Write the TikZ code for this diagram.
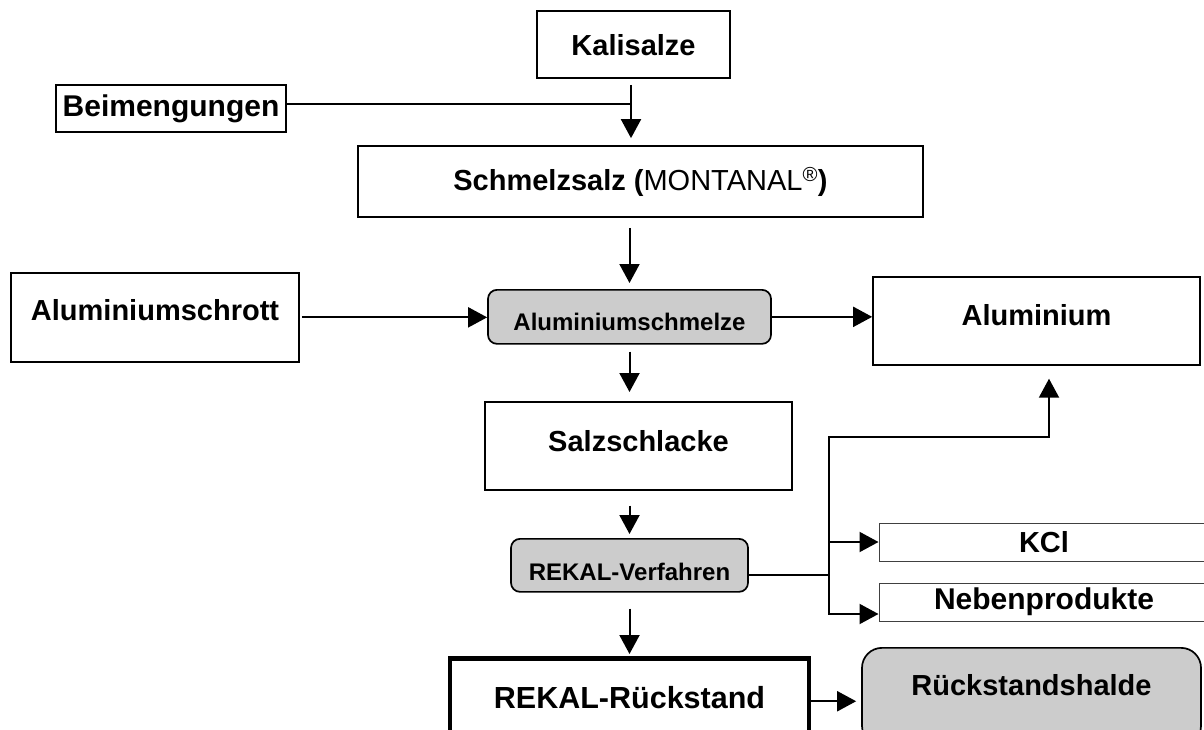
\documentclass[tikz,border=0pt]{standalone}
\usepackage{fontspec}
\setmainfont{Liberation Sans}
\usetikzlibrary{arrows.meta}

\begin{document}
\begin{tikzpicture}[x=1pt,y=-1pt,>={Triangle[length=19pt,width=20pt]},line width=2pt,
    box/.style={draw,line width=1.7pt,inner sep=0pt,font=\fontsize{29}{33}\selectfont\bfseries},
    grey/.style={box,fill=black!20,rounded corners=9pt,font=\fontsize{24}{28}\selectfont\bfseries},
    thin/.style={box,line width=1pt,draw=black!75}]
  \useasboundingbox (0,0) rectangle (1204,730);

  \node[box,minimum width=193pt,text height=45pt,text depth=22pt,anchor=north] (kali) at (633.5,10) {Kalisalze};
  \node[box,minimum width=230pt,minimum height=47pt,font=\fontsize{30}{34}\selectfont\bfseries] (beim) at (171,108.5) {Beimengungen};
  \node[box,minimum width=565pt,minimum height=71pt] (schmelz) at (640.5,181.5) {Schmelzsalz ({\mdseries MONTANAL\textsuperscript{\textregistered}})};
  \node[box,minimum width=288pt,text height=48pt,text depth=41pt,anchor=north] (schrott) at (155,272) {Aluminiumschrott};
  \node[grey,minimum width=283pt,text height=40.5pt,text depth=13.5pt,anchor=north] (alschm) at (629.5,289) {Aluminiumschmelze};
  \node[box,minimum width=327pt,text height=48.5pt,text depth=39.5pt,anchor=north] (alu) at (1036.5,276) {Aluminium};
  \node[box,minimum width=307pt,text height=49.5pt,text depth=38.5pt,anchor=north] (schlacke) at (638.5,401) {Salzschlacke};
  \node[grey,minimum width=237pt,text height=41.5pt,text depth=11.5pt,anchor=north] (rekal) at (629.5,538) {REKAL-Verfahren};
  \node[thin,minimum width=330pt,minimum height=38pt] (kcl) at (1044,542) {KCl};
  \node[thin,minimum width=330pt,minimum height=38pt,font=\fontsize{30}{34}\selectfont\bfseries] (neben) at (1044,602) {Nebenprodukte};
  \node[box,line width=4.5pt,minimum width=359pt,text height=50pt,text depth=36pt,anchor=north,
        font=\fontsize{30.5}{34}\selectfont\bfseries] (rueck) at (629.5,656) {REKAL-Rückstand};
  \node[grey,rounded corners=20pt,minimum width=339pt,text height=48pt,text depth=50pt,anchor=north,
        font=\fontsize{29}{33}\selectfont\bfseries] (halde) at (1031.5,647) {Rückstandshalde};

  \coordinate (kjoin) at (631,85);
  \coordinate (rx) at (829,0);
  \coordinate (rjoin) at ([yshift=-10pt]rekal.east -| rx);
  \coordinate (aup) at (1049,437);

  \draw ([yshift=4pt]beim.east) -- ([yshift=4pt]beim.east -| kjoin);
  \draw[->,shorten >=7pt] (kjoin) -- (kjoin |- schmelz.north);

  \path[->]
    (schmelz.south -| alschm.north) edge [shorten <=10pt,shorten >=6pt] (alschm.north)
    (alschm.south) edge [shorten <=7pt,shorten >=9pt] (alschm.south |- schlacke.north)
    (rekal.north |- schlacke.south) edge [shorten <=15pt,shorten >=4pt] (rekal.north)
    (rekal.south) edge [shorten <=16pt,shorten >=2pt] (rekal.south |- rueck.north)

    (schrott.east) edge [shorten <=2pt] (schrott.east -| alschm.west)
    (alschm.east) edge (alschm.east -| alu.west)
    (rueck.east) edge [shorten >=5pt] (rueck.east -| halde.west)
    ;

  \draw ([yshift=-10pt]rekal.east) -- (rjoin);
  \draw[->] (rjoin) |- (kcl.west);
  \draw[->] (rjoin) |- ([yshift=-12pt]neben.west);
  \draw[->,shorten >=13pt] (rjoin) |- (aup) -- (aup |- alu.south);
\end{tikzpicture}
\end{document}
